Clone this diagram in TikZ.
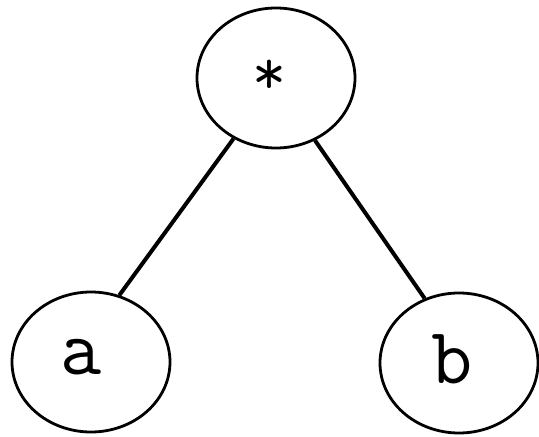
\documentclass[tikz,border=0pt]{standalone}
\usepackage{fontspec}
\usetikzlibrary{shapes.geometric}
\begin{document}
\begin{tikzpicture}[x=1pt,y=-1pt,
  treenode/.style={ellipse, draw=black, line width=2.8pt, minimum width=158pt, minimum height=140pt, inner sep=0pt, fill=white},
  lbl/.style={font=\ttfamily\fontsize{80}{80}\selectfont, inner sep=0pt},
  starlbl/.style={font=\ttfamily\fontsize{66}{66}\selectfont, inner sep=0pt},
  edge/.style={draw=black, line width=4pt}]
\fill[white] (0,0) rectangle (539,437);
\useasboundingbox (0,0) rectangle (539,437);
\node[treenode] (top) at (276,78) {};
\node[treenode] (a) at (91,362) {};
\node[treenode] (b) at (459,363) {};
\node[starlbl] (ts) at (269,77) {*};
\node[lbl] (ta) at (81,357) {a};
\node[lbl] (tb) at (452,359) {b};
\draw[edge] (top.235) -- (a.67);
\draw[edge] (top.302) -- (b.118);
\end{tikzpicture}
\end{document}
